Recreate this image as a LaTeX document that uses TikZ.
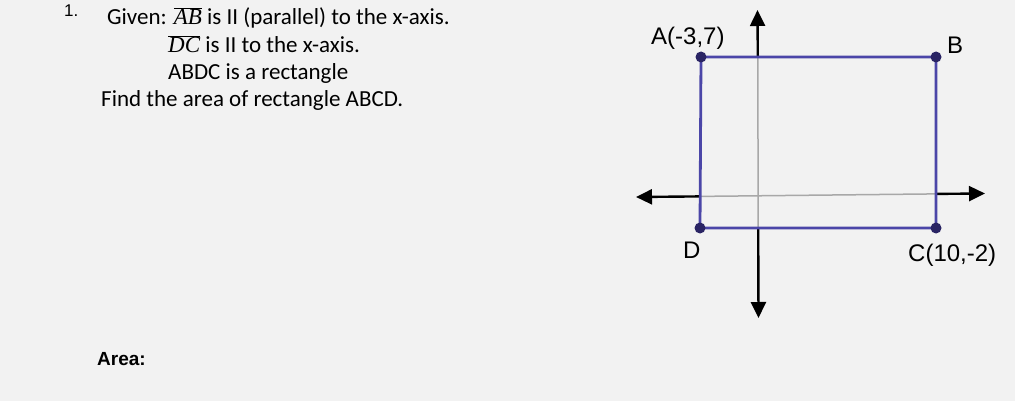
\documentclass[tikz,border=0pt]{standalone}
\usepackage{fontspec}
\setmainfont{Carlito}
\newfontfamily\arialf{Liberation Sans}
\newfontfamily\cambf{Liberation Serif}
\usetikzlibrary{arrows.meta}
\definecolor{bg}{HTML}{F2F2F2}
\definecolor{rectc}{HTML}{4B46A8}
\definecolor{dotc}{HTML}{2A2464}
\definecolor{axisg}{HTML}{A8A8A8}
\newcommand{\segm}[1]{$\overline{\hbox{\cambf\itshape #1}}$}
\begin{document}
\begin{tikzpicture}[x=1pt,y=-1pt,
  txt/.style={anchor=base west,inner sep=0pt,font=\fontsize{23}{27}\selectfont},
  lbl/.style={anchor=base west,inner sep=0pt,font=\arialf\fontsize{24}{28}\selectfont},
  side/.style={draw=rectc,line width=2.8pt},
  pt/.style={circle,fill=dotc,inner sep=0pt,minimum size=11pt},
  axb/.style={draw=black,line width=2.4pt},
  axg/.style={draw=axisg,line width=1.5pt},
  tip/.style={-{Triangle[length=16pt,width=15pt]}}]
\fill[bg] (0,0) rectangle (1015,401);
\useasboundingbox (0,0) rectangle (1015,401);
% text
\node[anchor=base west,inner sep=0pt,font=\arialf\fontsize{17}{20}\selectfont] (num) at (64,17) {1.};
\node[txt] (l1) at (107,25) {Given: \segm{AB} is II (parallel) to the x-axis.};
\node[txt] (l2) at (168,53) {\segm{DC} is II to the x-axis.};
\node[txt] (l3) at (168,80) {ABDC is a rectangle};
\node[txt] (l4) at (101,107) {Find the area of rectangle ABCD.};
\node[anchor=base west,inner sep=0pt,font=\arialf\bfseries\fontsize{19}{22}\selectfont] (area) at (97,365) {Area:};
% axes coordinates
\coordinate (yt) at (757.5,10);
\coordinate (yb) at (758.5,318);
\coordinate (ya) at (757.8,57);
\coordinate (yd) at (758.2,228);
\coordinate (xl) at (636,197);
\coordinate (xr) at (985,193.5);
\coordinate (xa) at (700.5,196.4);
\coordinate (xc) at (936,193.9);
% gray inner parts of axes
\draw[axg] (ya) -- (yd);
\draw[axg] (xa) -- (xc);
% black outer parts with arrows
\draw[axb,tip] (ya) -- (yt);
\draw[axb,tip] (yd) -- (yb);
\draw[axb,tip] (xa) -- (xl);
\draw[axb,tip] (xc) -- (xr);
% rectangle
\coordinate (A) at (701,57);
\coordinate (B) at (936,57);
\coordinate (C) at (936,228);
\coordinate (D) at (700,228);
\draw[side] (A) -- (B) -- (C) -- (D) -- cycle;
\node[pt] (pA) at (A) {};
\node[pt] (pB) at (B) {};
\node[pt] (pC) at (C) {};
\node[pt] (pD) at (D) {};
% labels
\node[lbl] (tA) at (651,45) {A(-3,7)};
\node[lbl] (tB) at (947,54) {B};
\node[lbl] (tD) at (683,258) {D};
\node[lbl] (tC) at (908,261) {C(10,-2)};
\end{tikzpicture}
\end{document}
